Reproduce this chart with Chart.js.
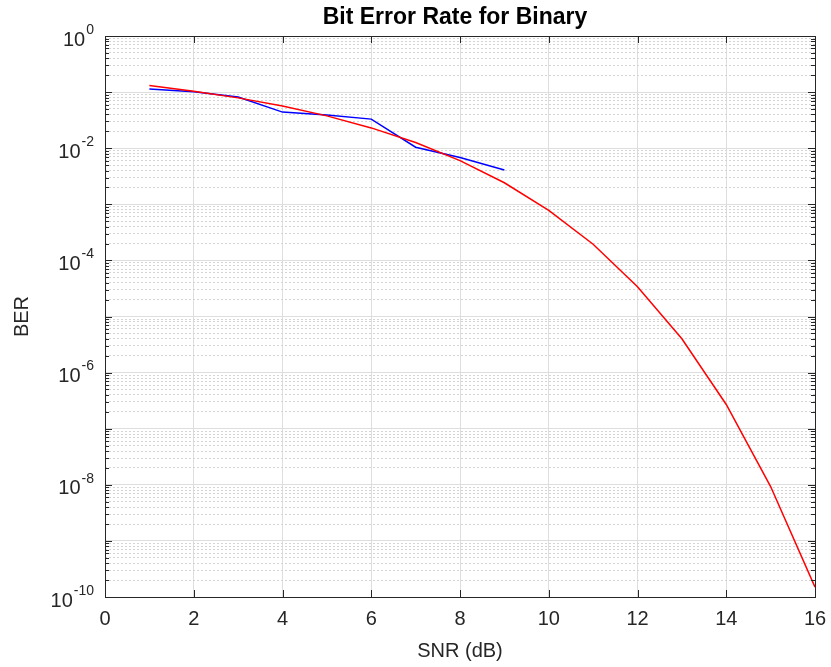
<!DOCTYPE html>
<html>
<head>
<meta charset="utf-8">
<title>Bit Error Rate for Binary</title>
<script src="https://cdn.jsdelivr.net/npm/chart.js@4"></script>
<style>
  html, body { margin: 0; padding: 0; background: #fff; }
  #wrap { width: 831px; height: 667px; }
</style>
</head>
<body>
<div id="wrap"><canvas id="berChart" width="831" height="667"></canvas></div>
<script>
// values
const snrTheory = [1, 2, 3, 4, 5, 6, 7, 8, 9, 10, 11, 12, 13, 14, 15, 16];
const berTheory = [0.131, 0.104, 0.0789, 0.0565, 0.0377, 0.0230, 0.0126, 0.0060, 0.00242,
  7.8e-4, 1.94e-4, 3.4e-5, 4.0e-6, 2.7e-7, 9.3e-9, 1.5e-10];
const snrSim = [1, 2, 3, 4, 5, 6, 7, 8, 9];
const berSim = [0.114, 0.101, 0.082, 0.044, 0.039, 0.033, 0.0104, 0.0068, 0.0041];
const xTicks = [0, 2, 4, 6, 8, 10, 12, 14, 16];
const yExponents = [0, -2, -4, -6, -8, -10];

const FONT = '"Liberation Sans", Arial, Helvetica, sans-serif';
const AXIS_COLOR = '#262626';

function toPoints(xs, ys) {
  return xs.map((x, i) => ({ x: x, y: ys[i] }));
}

function isDecade(v) {
  const e = Math.log10(v);
  return Math.abs(e - Math.round(e)) < 1e-9;
}

// title, y tick labels with superscripts, box and inward ticks
const matlabAxes = {
  id: 'matlabAxes',
  afterDraw(chart) {
    const ctx = chart.ctx;
    const area = chart.chartArea;
    const xs = chart.scales.x;
    const ys = chart.scales.y;
    ctx.save();

    // title
    ctx.fillStyle = '#000';
    ctx.font = 'bold 23px ' + FONT;
    ctx.textAlign = 'center';
    ctx.textBaseline = 'middle';
    ctx.fillText('Bit Error Rate for Binary', (area.left + area.right) / 2 - 5, 18);

    // y tick labels
    ctx.fillStyle = AXIS_COLOR;
    yExponents.forEach(e => {
      const y = ys.getPixelForValue(Math.pow(10, e));
      const exp = String(e);
      ctx.font = '14px ' + FONT;
      ctx.textAlign = 'right';
      const expW = ctx.measureText(exp).width;
      const right = 94;
      ctx.fillText(exp, right, y - 6);
      ctx.font = '20px ' + FONT;
      ctx.fillText('10', right - expW - 1, y + 4);
    });

    // inward ticks
    ctx.strokeStyle = AXIS_COLOR;
    ctx.lineWidth = 1;
    ctx.beginPath();
    xTicks.forEach(v => {
      const x = Math.round(xs.getPixelForValue(v)) + 0.5;
      ctx.moveTo(x, area.bottom);
      ctx.lineTo(x, area.bottom - 7);
      ctx.moveTo(x, area.top);
      ctx.lineTo(x, area.top + 7);
    });
    ys.ticks.forEach(t => {
      const y = Math.round(ys.getPixelForValue(t.value)) + 0.5;
      const len = isDecade(t.value) ? 7 : 4;
      ctx.moveTo(area.left, y);
      ctx.lineTo(area.left + len, y);
      ctx.moveTo(area.right, y);
      ctx.lineTo(area.right - len, y);
    });
    ctx.stroke();

    // box
    ctx.strokeStyle = AXIS_COLOR;
    ctx.strokeRect(Math.round(area.left) + 0.5, Math.round(area.top) + 0.5,
      Math.round(area.right - area.left), Math.round(area.bottom - area.top));
    ctx.restore();
  }
};

new Chart(document.getElementById('berChart'), {
  type: 'line',
  data: {
    datasets: [
      {
        label: 'Theory',
        data: toPoints(snrTheory, berTheory),
        borderColor: 'rgb(255, 0, 0)',
        borderWidth: 1.5,
        pointRadius: 0,
        tension: 0,
        fill: false
      },
      {
        label: 'Simulation',
        data: toPoints(snrSim, berSim),
        borderColor: 'rgb(0, 0, 255)',
        borderWidth: 1.5,
        pointRadius: 0,
        tension: 0,
        fill: false
      }
    ]
  },
  options: {
    responsive: false,
    animation: false,
    layout: { padding: { top: 36, right: 16, bottom: 0, left: 0 } },
    plugins: {
      legend: { display: false },
      tooltip: { enabled: false },
      title: { display: false }
    },
    scales: {
      x: {
        type: 'linear',
        min: 0,
        max: 16,
        afterBuildTicks: s => { s.ticks = xTicks.map(v => ({ value: v })); },
        afterFit: s => { s.height = 70; s.paddingLeft = 0; s.paddingRight = 0; },
        ticks: {
          color: AXIS_COLOR,
          font: { family: FONT, size: 20 },
          padding: 10,
          maxRotation: 0
        },
        grid: {
          drawTicks: false,
          color: '#dedede',
          lineWidth: 1
        },
        border: { display: false },
        title: {
          display: true,
          text: 'SNR (dB)',
          color: AXIS_COLOR,
          font: { family: FONT, size: 20 },
          padding: { top: 4, bottom: 4 }
        }
      },
      y: {
        type: 'logarithmic',
        min: 1e-10,
        max: 1,
        afterBuildTicks: s => {
          const t = [];
          for (let e = -10; e < 0; e++) {
            for (let m = 1; m <= 9; m++) t.push({ value: m * Math.pow(10, e) });
          }
          t.push({ value: 1 });
          s.ticks = t;
        },
        afterFit: s => { s.width = 105; },
        ticks: { display: false },
        grid: {
          drawTicks: false,
          color: c => (c.tick && isDecade(c.tick.value)) ? '#dedede' : '#d4d4d4',
          lineWidth: 1
        },
        border: {
          display: false,
          dash: c => (c.tick && isDecade(c.tick.value)) ? [] : [2, 2]
        },
        title: {
          display: true,
          text: 'BER',
          color: AXIS_COLOR,
          font: { family: FONT, size: 20 },
          padding: { top: 10, bottom: 0 }
        }
      }
    }
  },
  plugins: [matlabAxes]
});
</script>
</body>
</html>
